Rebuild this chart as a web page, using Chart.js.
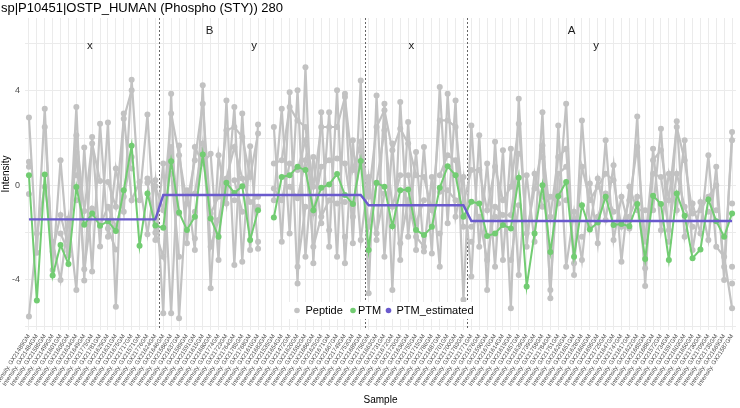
<!DOCTYPE html>
<html>
<head>
<meta charset="utf-8">
<script src="https://cdn.jsdelivr.net/npm/chart.js@4.4.1/dist/chart.umd.min.js"></script>
<style>
  html, body { margin: 0; padding: 0; background: #fff; }
  #wrap { width: 740px; height: 408px; }
</style>
</head>
<body>
<div id="wrap"><canvas id="chart" width="740" height="408"></canvas></div>
<script>
// sample ids (x axis), read roughly from the rotated labels
const sampleIds = [
  21489, 21484, 21585, 21499, 21601, 21605, 21634, 21649, 21775, 21781,
  21629, 21631, 21675, 21717, 21571, 21776, 21624, 21646, 21586, 21637,
  21589, 21591, 21615, 21680, 21774, 21723, 21764, 21785, 21768, 21610,
  21683, 21535, 21654, 21472, 21620, 21582, 21686, 21625, 21671, 21667,
  21749, 21753, 21689, 21756, 21663, 21731, 21672, 21720, 21636, 21755,
  21715, 21786, 21687, 21701, 21700, 21783, 21771, 21576, 21590, 21670,
  21614, 21619, 21657, 21639, 21739, 21758, 21784, 21751, 21626, 21651,
  21628, 21666, 21695, 21725, 21647, 21747, 21617, 21622, 21685, 21688,
  21572, 21734, 21597, 21603, 21650, 21730, 21709, 21735, 21669, 21587
];
const sampleLabels = sampleIds.map(id => 'Intensity. GX' + id + 'GM');

// peptide intensities (grey lines)
const pep1 = [2.87,-2.87,3.25,-3.6,1.06,-3.0,3.32,-4.05,2.05,-2.6,
  2.66,-5.16,3.04,-0.64,0.14,-2.08,0.21,-5.44,3.88,-5.65,
  -0.21,-2.75,4.24,-4.38,1.27,-0.78,3.32,-3.25,1.65,-2.7,
  null,-0.64,3.25,-2.05,4.03,-3.04,1.2,-1.62,3.1,-3.04,
  3.88,-2.47,4.45,-4.59,3.81,-3.04,1.77,-3.18,2.68,-2.75,
  1.62,-2.9,4.17,-1.62,3.6,-4.87,2.54,-2.61,0.92,-3.46,
  1.48,-5.23,3.67,-2.61,0.49,-0.92,-0.49,-0.78,3.46,-3.81,
  2.75,-1.77,0.28,-1.48,0.85,-3.25,-0.07,-1.06,-1.06,-1.06,
  2.4,-2.4,2.71,-2.19,-0.78,-2.05,1.27,-2.61,-3.04,-5.23];
const pep2 = [-5.58,-2.05,-0.07,-2.4,-4.03,-1.41,-4.45,1.6,-3.67,2.61,
  -2.19,0.71,-1.13,4.48,-0.64,3.0,-2.33,0.92,-5.44,1.69,
  -2.47,1.62,0.92,1.34,-3.18,3.6,-3.39,3.04,-2.75,2.58,
  null,2.47,-2.4,3.95,-4.17,5.01,-3.32,3.1,-2.61,4.03,
  -3.32,1.91,-2.33,0.35,-2.33,3.46,-4.45,3.53,-2.19,1.41,
  -2.82,0.35,-3.46,3.88,-1.34,0.35,-3.88,2.12,-4.45,1.84,
  -3.18,1.55,-3.81,0.42,-2.4,3.1,-4.8,2.54,-3.46,-1.13,
  -3.18,0.07,-2.47,1.91,-2.33,-0.49,-1.84,2.92,-4.28,1.55,
  -1.91,0.49,-1.06,1.91,-2.75,-0.71,-2.33,0.78,-4.03,2.26];
const pep3 = [0.99,null,2.47,-2.82,-1.27,-2.6,2.12,-1.1,1.77,0.18,
  0.14,-0.92,2.82,4.03,null,0.28,-0.05,-1.06,3.04,1.27,
  -0.78,1.06,3.46,-1.2,-0.49,2.33,2.47,2.05,0.35,2.19,
  null,0.92,1.06,3.32,2.75,2.47,-0.07,2.47,2.47,2.47,
  3.74,0.64,1.84,-0.49,2.47,3.18,1.48,2.4,1.77,0.42,
  0.35,-1.06,2.75,2.75,2.47,-0.78,0.64,0.64,-1.06,0.78,
  -0.64,-0.07,2.61,-2.05,-0.14,1.69,-1.34,1.2,1.55,-3.32,
  0.78,-0.64,-0.07,0.49,0.21,-1.77,-0.64,1.62,-2.4,1.06,
  1.48,-0.64,2.47,1.06,-1.2,-1.06,-0.49,0,-3.46,1.91];
const pep4 = [0.78,null,null,null,-2.05,-2.82,1.41,-3.57,-0.99,-1.7,
  -0.92,-1.77,-0.49,1.2,null,0.1,-2.02,-3.04,1.62,-1.2,
  null,-0.35,1.77,-2.61,-1.48,0.28,1.62,0.28,-0.71,-0.49,
  null,-0.14,-0.64,0.92,0.64,1.91,-1.2,0.78,1.06,1.13,
  0.92,-1.34,1.48,-1.77,0.07,2.33,-0.92,0.42,0.42,-1.62,
  -0.64,null,0.42,1.27,1.06,-1.77,-1.77,-1.34,-3.18,-0.92,
  -1.27,-1.27,1.34,null,null,1.2,-4.45,0.49,0.78,null,
  -2.19,null,-1.34,-0.35,-1.13,null,-1.34,-0.49,-3.53,0.49,
  0.35,-1.91,0.49,-0.92,-1.77,null,-1.13,-1.06,null,-0.78];
const pep5 = [-0.37,null,null,null,null,null,0.42,null,null,null,
  -1.84,-2.73,null,0.71,null,null,null,null,0.49,-3.04,
  null,-1.13,null,null,null,null,0.21,-1.13,null,-0.92,
  null,null,null,-0.07,-0.56,1.06,-2.61,-1.34,-0.64,-0.78,
  -0.71,null,0.78,null,-2.05,-0.35,null,-2.47,-0.64,-2.19,
  -2.61,null,-0.28,-0.21,-0.64,null,-2.4,null,null,-1.34,
  null,-3.18,-0.85,null,null,-0.49,null,null,-0.64,null,
  null,null,null,null,null,null,null,null,null,null,
  null,null,null,null,null,null,null,null,null,-3.46];
const pep6 = [null,null,null,null,null,null,-0.64,null,null,null,
  null,null,null,null,null,null,null,null,null,null,
  null,-2.26,null,null,null,null,-0.64,null,null,-2.4,
  null,null,null,null,-3.46,-0.92,null,null,-1.91,null,
  -2.19,null,null,null,null,null,null,null,null,null,
  null,null,-2.05,null,null,null,null,null,null,null,
  null,null,null,null,null,null,null,null,null,null,
  null,null,null,null,null,null,null,null,null,null,
  null,null,null,null,null,null,null,null,null,-4.17];
const peptides = [pep1, pep2, pep3, pep4, pep5, pep6];

// PTM intensities (green)
const ptm = [0.42,-4.9,0.45,-3.84,-2.54,-3.35,-0.08,-1.68,-1.2,-1.72,
  -1.53,-1.95,-0.21,1.68,-2.57,-0.35,-1.71,-1.81,1.02,-1.16,
  -1.9,-1.34,1.3,-1.41,-2.19,0.1,-0.33,-0.04,-2.33,-1.06,
  null,-1.37,0.35,0.42,0.78,0.64,-1.06,-0.11,0.03,0.47,
  -0.42,-0.8,1.03,-2.75,0.1,-0.07,-1.74,-0.21,-0.18,-1.9,
  -2.12,-1.77,-0.11,0.8,0.42,-1.34,-0.7,-0.78,-2.16,-2.05,
  -1.69,-1.84,0.32,-4.3,-2.05,0,-2.84,-0.47,0.14,-3.04,
  -0.85,-1.88,-1.58,-0.49,-1.69,-1.65,-1.74,-0.8,-3.14,-0.45,
  -0.8,-3.18,-0.35,-1.3,-3.1,-2.73,-0.61,-1.53,-2.19,-1.2];

// PTM_estimated (one level per group)
const groupSizes = [17, 26, 13, 34];        // B.x, B.y, A.x, A.y
const groupEstimates = [-1.45, -0.42, -0.85, -1.52];
const ptmEstimated = groupSizes.flatMap((n, g) => Array(n).fill(groupEstimates[g]));

const yTickLabels = [-4, 0, 4];

const GREY = '#c2c2c2', GREEN = '#72cc72', BLUE = '#6a5acd';

const peptideSets = peptides.map((d, i) => ({
  label: 'Peptide ' + (i + 1),
  data: d,
  borderColor: GREY,
  backgroundColor: GREY,
  pointRadius: 3,
  pointBorderWidth: 0,
  borderWidth: 2.2,
  spanGaps: false,
  order: 3
}));

// facet strip labels, vertical separators, title, legend
const decorations = {
  id: 'decorations',
  beforeDatasetsDraw(chart) {
    const { ctx, chartArea: a, scales: { x } } = chart;
    ctx.save();
    // dotted separators between groups
    ctx.strokeStyle = '#555';
    ctx.lineWidth = 0.9;
    ctx.setLineDash([2, 2]);
    let acc = 0;
    groupSizes.slice(0, -1).forEach(n => {
      acc += n;
      const px = Math.round((x.getPixelForValue(acc - 1) + x.getPixelForValue(acc)) / 2) + 0.5;
      ctx.beginPath(); ctx.moveTo(px, a.top); ctx.lineTo(px, a.bottom); ctx.stroke();
    });
    ctx.setLineDash([]);
    // strip labels
    ctx.fillStyle = '#1a1a1a';
    ctx.textAlign = 'center';
    ctx.textBaseline = 'middle';
    ctx.font = '11.5px "Liberation Sans", Arial, sans-serif';
    [['B', 22.85, 31], ['A', 68.7, 31], ['x', 7.7, 46], ['y', 28.5, 46], ['x', 48.4, 46], ['y', 71.8, 46]]
      .forEach(([t, pos, py]) => ctx.fillText(t, x.getPixelForValue(0) + pos * (x.getPixelForValue(1) - x.getPixelForValue(0)), py));
    ctx.restore();
  },
  afterDraw(chart) {
    const { ctx } = chart;
    ctx.save();
    ctx.fillStyle = '#000';
    ctx.textBaseline = 'middle';
    ctx.textAlign = 'left';
    ctx.font = '13px "Liberation Sans", Arial, sans-serif';
    ctx.fillText('sp|P10451|OSTP_HUMAN (Phospho (STY)) 280', 1, 8);
    // legend
    ctx.fillStyle = '#fff';
    ctx.fillRect(289, 302, 190, 17);
    ctx.font = '11px "Liberation Sans", Arial, sans-serif';
    [['Peptide', GREY, 297, 305.5], ['PTM', GREEN, 353, 358], ['PTM_estimated', BLUE, 388.5, 396.5]]
      .forEach(([t, c, dx, tx]) => {
        ctx.fillStyle = c;
        ctx.beginPath(); ctx.arc(dx, 310.5, 2.8, 0, Math.PI * 2); ctx.fill();
        ctx.fillStyle = '#000';
        ctx.fillText(t, tx, 311);
      });
    ctx.restore();
  }
};

new Chart(document.getElementById('chart'), {
  type: 'line',
  data: {
    labels: sampleLabels,
    datasets: [
      {
        label: 'PTM_estimated',
        data: ptmEstimated,
        borderColor: BLUE,
        backgroundColor: BLUE,
        borderWidth: 2.4,
        pointRadius: 0,
        order: 1
      },
      {
        label: 'PTM',
        data: ptm,
        borderColor: GREEN,
        backgroundColor: GREEN,
        borderWidth: 2,
        pointRadius: 3,
        pointBorderWidth: 0,
        spanGaps: false,
        order: 2
      },
      ...peptideSets
    ]
  },
  options: {
    responsive: false,
    animation: false,
    devicePixelRatio: 1,
    layout: { padding: { top: 18, right: 2, left: 0, bottom: 0 } },
    plugins: { legend: { display: false }, tooltip: { enabled: false } },
    scales: {
      x: {
        offset: true,
        grid: { offset: false, color: '#ebebeb', lineWidth: 1, drawTicks: false },
        border: { display: false },
        ticks: {
          autoSkip: false, maxRotation: 57, minRotation: 57, padding: 3,
          color: '#4d4d4d', font: { size: 6, family: '"Liberation Sans", Arial, sans-serif' }
        },
        title: {
          display: true, text: 'Sample', color: '#000',
          font: { size: 10, family: '"Liberation Sans", Arial, sans-serif' }, padding: { top: 0, bottom: 2 }
        },
        afterFit(s) { s.height = 78; s.paddingLeft = 0; s.paddingRight = 0; }
      },
      y: {
        min: -6.15, max: 7.1,
        grid: { color: '#ebebeb', lineWidth: 1, drawTicks: false },
        border: { display: false },
        ticks: {
          stepSize: 2, includeBounds: false, padding: 5,
          color: '#4d4d4d', font: { size: 9, family: '"Liberation Sans", Arial, sans-serif' },
          callback: v => (yTickLabels.includes(v) ? String(v) : '')
        },
        title: {
          display: true, text: 'Intensity', color: '#000',
          font: { size: 10, family: '"Liberation Sans", Arial, sans-serif' }, padding: { top: 0, bottom: 0 }
        },
        afterFit(s) { s.width = 25; }
      }
    }
  },
  plugins: [decorations]
});
</script>
</body>
</html>
